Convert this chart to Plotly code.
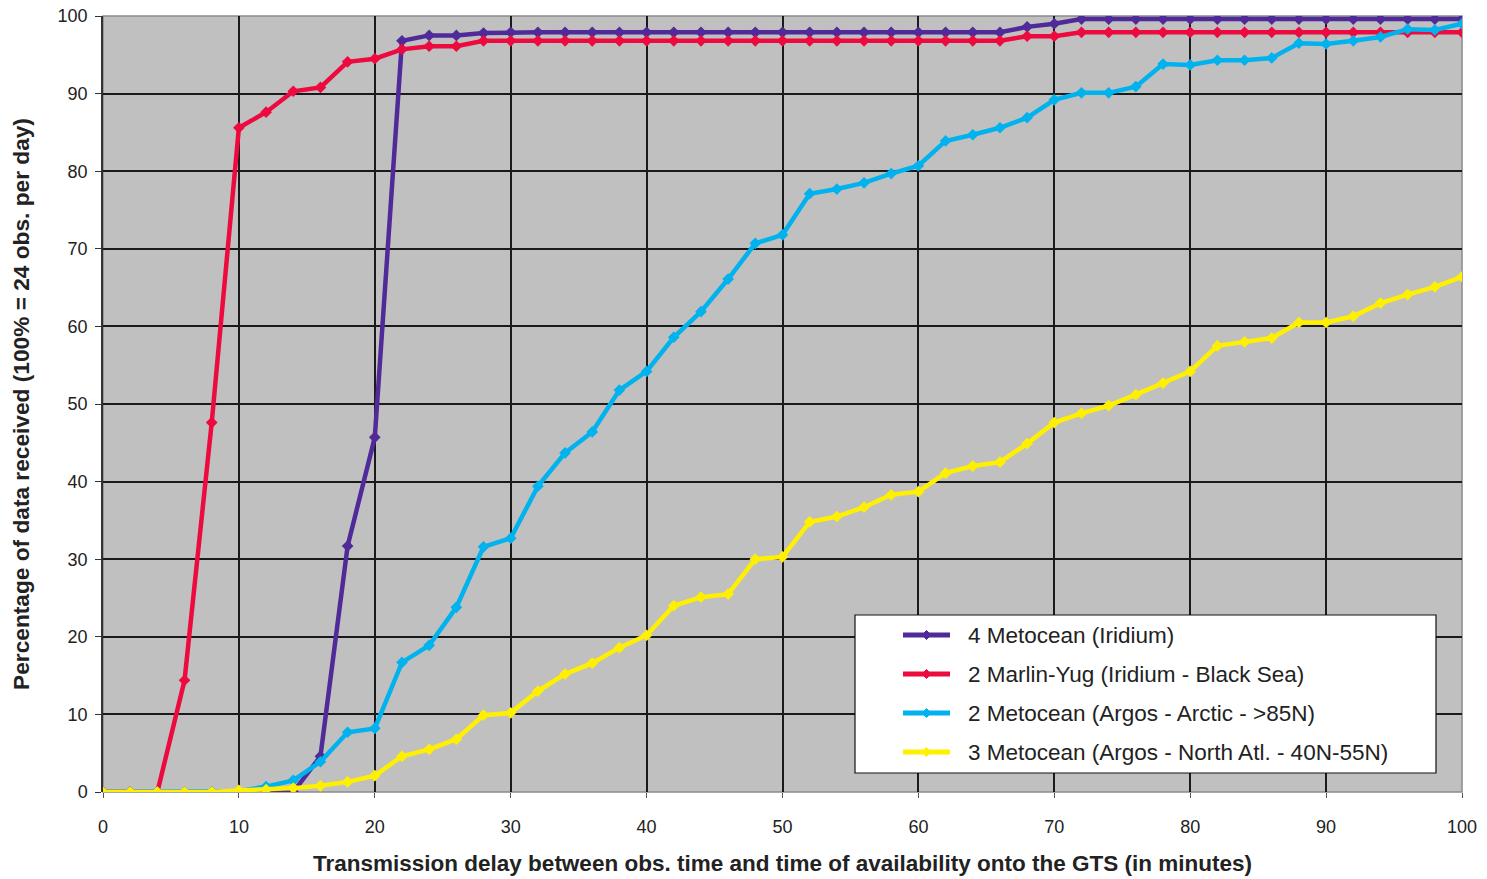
import plotly.graph_objects as go

# Transmission delay (minutes)
delay = list(range(0, 101, 2))

metocean_iridium = [0, 0, 0, 0, 0, 0, 0, 0, 4.6, 31.7, 45.7,
                    96.8, 97.5, 97.5, 97.8, 97.9] + [97.9] * 18 + [98.6, 99.0] + [99.6] * 15

marlin_yug = [0, 0, 0, 14.4, 47.6, 85.6, 87.6, 90.3, 90.8, 94.1, 94.5,
              95.7, 96.1, 96.1] + [96.8] * 20 + [97.4, 97.4] + [97.9] * 15

metocean_arctic = [0, 0, 0, 0, 0, 0.1, 0.7, 1.5, 3.9, 7.7, 8.2,
                   16.7, 18.9, 23.8, 31.6, 32.7, 39.4, 43.7, 46.4, 51.8, 54.2,
                   58.6, 61.9, 66.1, 70.7, 71.8, 77.1, 77.7, 78.5, 79.7, 80.7,
                   83.9, 84.7, 85.6, 86.9, 89.2, 90.1, 90.1, 90.9, 93.8, 93.7,
                   94.3, 94.3, 94.6, 96.5, 96.4, 96.8, 97.3, 98.3, 98.2, 99.0]

metocean_north_atl = [0, 0, 0, 0, 0, 0.2, 0.3, 0.5, 0.8, 1.3, 2.1,
                      4.6, 5.5, 6.8, 9.9, 10.2, 13.0, 15.2, 16.6, 18.6, 20.2,
                      24.0, 25.1, 25.5, 30.0, 30.3, 34.8, 35.5, 36.7, 38.3, 38.7,
                      41.1, 42.0, 42.5, 44.9, 47.6, 48.8, 49.8, 51.2, 52.7, 54.2,
                      57.5, 58.0, 58.5, 60.5, 60.5, 61.3, 63.0, 64.1, 65.1, 66.4]

series_names = [
    "4 Metocean (Iridium)",
    "2 Marlin-Yug (Iridium - Black Sea)",
    "2 Metocean (Argos - Arctic - >85N)",
    "3 Metocean (Argos - North Atl. - 40N-55N)",
]
series_values = [metocean_iridium, marlin_yug, metocean_arctic, metocean_north_atl]
series_colors = ["#502A98", "#EC0A3E", "#00B2EE", "#FFF000"]

tick_vals = list(range(0, 101, 10))

W, H = 1487, 879
ML, MR, MT, MB = 103, 25, 16, 87
PW, PH = W - ML - MR, H - MT - MB

fig = go.Figure()
for name, vals, col in zip(series_names, series_values, series_colors):
    fig.add_trace(go.Scatter(
        x=delay, y=vals, name=name, mode="lines+markers",
        line=dict(color=col, width=4.5),
        marker=dict(symbol="diamond", size=9, color=col),
        showlegend=False,
    ))

font_family = "Liberation Sans, Arial, sans-serif"


def px_x(p):
    return (p - ML) / PW


def px_y(p):
    return (MT + PH - p) / PH


shapes = [
    # plot frame drawn over the grid
    dict(type="rect", xref="paper", yref="paper", x0=0, x1=1, y0=0, y1=1,
         line=dict(color="#8a8a8a", width=1.5), layer="between"),
    # legend box
    dict(type="rect", xref="paper", yref="paper",
         x0=px_x(855), x1=px_x(1436), y0=px_y(773), y1=px_y(615),
         fillcolor="white", line=dict(color="#111", width=1.2), layer="above"),
]
annotations = []
row_y = [635, 674, 713, 752]
for name, col, ry in zip(series_names, series_colors, row_y):
    shapes.append(dict(type="line", xref="paper", yref="paper",
                       x0=px_x(903), x1=px_x(950), y0=px_y(ry), y1=px_y(ry),
                       line=dict(color=col, width=5), layer="above"))
    cx, cy, r = 926.5, ry, 4.5
    path = "M {} {} L {} {} L {} {} L {} {} Z".format(
        px_x(cx), px_y(cy - r), px_x(cx + r), px_y(cy),
        px_x(cx), px_y(cy + r), px_x(cx - r), px_y(cy))
    shapes.append(dict(type="path", xref="paper", yref="paper", path=path,
                       fillcolor=col, line=dict(color=col, width=1), layer="above"))
    annotations.append(dict(xref="paper", yref="paper", x=px_x(966), y=px_y(ry),
                            text=name, showarrow=False, xanchor="left", yanchor="middle",
                            font=dict(family=font_family, size=22.5, color="#222")))

fig.update_layout(
    width=W, height=H,
    margin=dict(l=ML, r=MR, t=MT, b=MB, autoexpand=False),
    paper_bgcolor="white",
    plot_bgcolor="#C0C0C0",
    font=dict(family=font_family, size=18, color="#222"),
    shapes=shapes,
    annotations=annotations,
    xaxis=dict(
        range=[0, 100], tickvals=tick_vals, showgrid=True,
        gridcolor="#1a1a1a", gridwidth=1.5, zeroline=False,
        ticks="outside", ticklen=5, tickcolor="#555",
        ticklabelstandoff=13,
        tickfont=dict(size=18, color="#222"),
        title=dict(text="<b>Transmission delay between obs. time and time of availability onto the GTS (in minutes)</b>",
                   font=dict(size=22.5, color="#222"), standoff=19),
        showline=False, fixedrange=True, automargin=False,
    ),
    yaxis=dict(
        range=[0, 100], tickvals=tick_vals, showgrid=True,
        gridcolor="#1a1a1a", gridwidth=1.5, zeroline=False,
        ticks="outside", ticklen=6, tickcolor="#333",
        ticklabelstandoff=4,
        tickfont=dict(size=18, color="#222"),
        title=dict(text="<b>Percentage of data received (100% = 24 obs. per day)</b>",
                   font=dict(size=22.7, color="#222"), standoff=22),
        showline=True, linecolor="#333", linewidth=1.5, fixedrange=True, automargin=False,
    ),
)

fig.write_html("out.html")
